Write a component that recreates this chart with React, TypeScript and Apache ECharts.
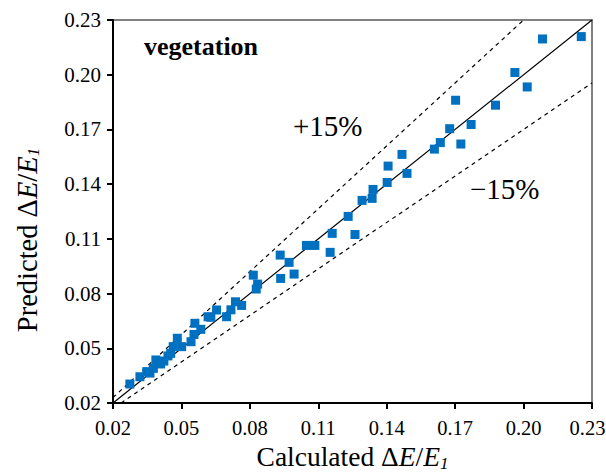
import React, { useEffect, useRef } from "react";
import * as echarts from "echarts";

const calculated: number[] = [
  0.0274, 0.0318, 0.0348, 0.0362, 0.0377, 0.0388, 0.0409, 0.0423, 0.0441, 0.0453,
  0.0464, 0.0501, 0.0482, 0.0542, 0.0555, 0.0585, 0.0559, 0.0617, 0.0654, 0.0629,
  0.0698, 0.0717, 0.0737, 0.0764, 0.0815, 0.0834, 0.0828, 0.0933, 0.0972, 0.0935,
  0.0994, 0.1048, 0.1085, 0.1152, 0.1161, 0.1261, 0.1231, 0.1292, 0.1336, 0.1340,
  0.1402, 0.1406, 0.1489, 0.1467, 0.1609, 0.1635, 0.1725, 0.1676, 0.1770, 0.1702,
  0.1877, 0.2016, 0.1962, 0.2083, 0.2253,
];
const predicted: number[] = [
  0.0304, 0.0344, 0.0372, 0.0364, 0.0390, 0.0436, 0.0414, 0.0430, 0.0458, 0.0472,
  0.0509, 0.0509, 0.0555, 0.0536, 0.0576, 0.0604, 0.0637, 0.0673, 0.0710, 0.0670,
  0.0673, 0.0711, 0.0755, 0.0735, 0.0901, 0.0852, 0.0825, 0.1011, 0.0971, 0.0883,
  0.0907, 0.1064, 0.1064, 0.1026, 0.1130, 0.1124, 0.1223, 0.1311, 0.1322, 0.1371,
  0.1409, 0.1499, 0.1459, 0.1563, 0.1592, 0.1628, 0.1620, 0.1704, 0.1727, 0.1860,
  0.1833, 0.1933, 0.2012, 0.2196, 0.2209,
];

const axisMin = 0.02;
const axisMax = 0.23;
const tickStep = 0.03;
const upperFactor = 1.15;
const lowerFactor = 0.85;

const serif = "Liberation Serif";

function nameRich(size: number) {
  return {
    a: { fontFamily: serif, fontSize: size, lineHeight: 30, color: "#000" },
    i: { fontFamily: serif, fontSize: size, lineHeight: 30, fontStyle: "italic", color: "#000" },
    s: {
      fontFamily: serif,
      fontSize: 17,
      lineHeight: 15,
      fontStyle: "italic",
      verticalAlign: "bottom",
      color: "#000",
    },
  };
}

export default function App() {
  const ref = useRef<HTMLDivElement>(null);
  useEffect(() => {
    if (!ref.current) return;
    document.body.style.margin = "0";
    const chart = echarts.init(ref.current, undefined, { renderer: "svg" });
    const points = calculated.map((c, i) => [c, predicted[i]]);
    const oneToOne = [
      [axisMin, axisMin],
      [axisMax, axisMax],
    ];
    const upper = [
      [axisMin, axisMin * upperFactor],
      [axisMax / upperFactor, axisMax],
    ];
    const lower = [
      [axisMin / lowerFactor, axisMin],
      [axisMax, axisMax * lowerFactor],
    ];
    const fmt = (v: number) => v.toFixed(2);
    const fmtX = (v: number) =>
      Math.abs(v - axisMax) < 1e-9 ? "{r|" + v.toFixed(2) + "}" : v.toFixed(2);
    chart.setOption({
      animation: false,
      grid: {
        left: 113,
        right: 14,
        top: 20,
        bottom: 69,
        show: true,
        borderColor: "#808080",
        borderWidth: 2,
        outerBoundsMode: "none",
      },
      xAxis: {
        type: "value",
        min: axisMin,
        max: axisMax,
        interval: tickStep,
        splitLine: { show: false },
        axisLine: { show: true, onZero: false, lineStyle: { color: "#000", width: 2 } },
        axisTick: { show: true, inside: false, length: 6, lineStyle: { color: "#000", width: 2 } },
        axisLabel: {
          formatter: fmtX,
          fontFamily: serif,
          fontSize: 20.5,
          color: "#000",
          margin: 14,
          rich: {
            r: { fontFamily: serif, fontSize: 20.5, color: "#000", padding: [0, 9, 0, 0] },
          },
        },
        name: "{a|Calculated Δ}{i|E}{a|/}{i|E}{s|1}",
        nameLocation: "middle",
        nameGap: 38,
        nameTextStyle: { rich: nameRich(27.5) },
      },
      yAxis: {
        type: "value",
        min: axisMin,
        max: axisMax,
        interval: tickStep,
        splitLine: { show: false },
        axisLine: { show: true, onZero: false, lineStyle: { color: "#000", width: 2 } },
        axisTick: { show: true, inside: false, length: 6, lineStyle: { color: "#000", width: 2 } },
        axisLabel: {
          formatter: fmt,
          fontFamily: serif,
          fontSize: 21,
          color: "#000",
          margin: 12,
        },
      },
      series: [
        {
          type: "line",
          data: oneToOne,
          symbol: "none",
          lineStyle: { color: "#000", width: 1.2 },
          z: 2,
        },
        {
          type: "line",
          data: upper,
          symbol: "none",
          lineStyle: { color: "#000", width: 1.2, type: [4, 4] },
          z: 2,
        },
        {
          type: "line",
          data: lower,
          symbol: "none",
          lineStyle: { color: "#000", width: 1.2, type: [4, 4] },
          z: 2,
        },
        {
          type: "scatter",
          data: points,
          symbol: "rect",
          symbolSize: 9,
          itemStyle: { color: "#0070C0", opacity: 1 },
          z: 3,
        },
      ],
      graphic: [
        {
          type: "text",
          x: 27,
          y: 240,
          rotation: Math.PI / 2,
          style: {
            text: "{a|Predicted Δ}{i|E}{a|/}{i|E}{s|1}",
            rich: nameRich(28.5),
            align: "center",
            verticalAlign: "middle",
          },
        },
        {
          type: "text",
          left: 144,
          top: 33,
          style: {
            text: "vegetation",
            fontFamily: serif,
            fontSize: 26,
            fontWeight: "bold",
            fill: "#000",
          },
        },
        {
          type: "text",
          left: 293,
          top: 111,
          style: {
            text: "+15%",
            fontFamily: serif,
            fontSize: 29,
            fill: "#000",
          },
        },
        {
          type: "text",
          left: 470,
          top: 174,
          style: {
            text: "−15%",
            fontFamily: serif,
            fontSize: 29,
            fill: "#000",
          },
        },
      ],
    });
    return () => chart.dispose();
  }, []);
  return <div ref={ref} style={{ width: 606, height: 472 }} />;
}
